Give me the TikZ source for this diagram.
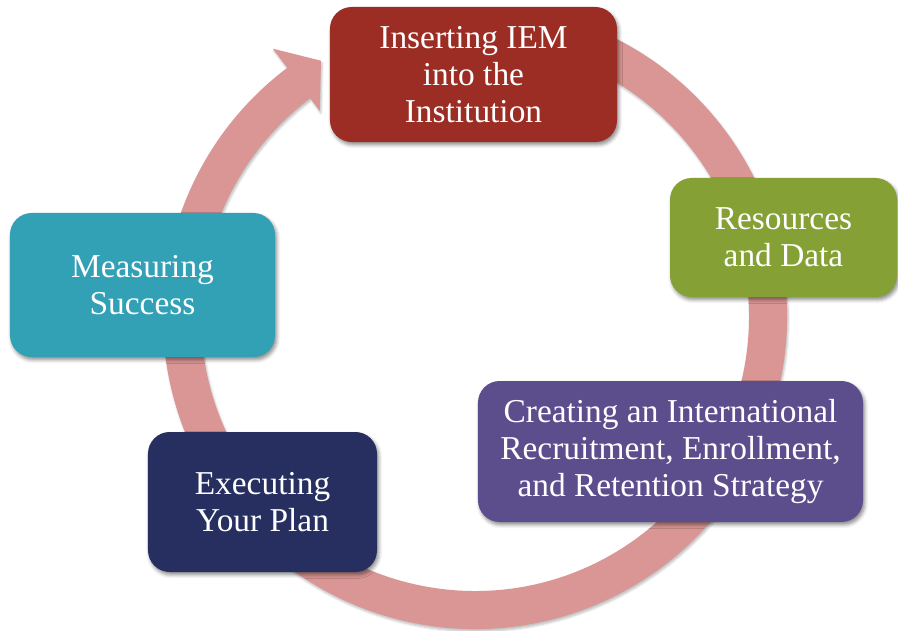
\documentclass[tikz,border=0pt]{standalone}
\usepackage{fontspec}
\setmainfont{Liberation Serif}
\usetikzlibrary{shadows.blur}

\definecolor{cycleRing}{HTML}{DA9694}
\definecolor{cycleRed}{HTML}{9C2D24}
\definecolor{cycleGreen}{HTML}{85A136}
\definecolor{cyclePurple}{HTML}{5C4E8C}
\definecolor{cycleNavy}{HTML}{262F60}
\definecolor{cycleTeal}{HTML}{32A0B5}

\newcommand{\cyclePx}{0.03cm}
\newcommand{\cycleRingIn}{274}
\newcommand{\cycleRingOut}{312}
\tikzset{
  cy base/.style={font=\fontsize{28.5}{31.5}\selectfont, text=white},
  cy shadow/.style={blur shadow={shadow xshift=1.5pt, shadow yshift=-2.5pt,
    shadow blur radius=3pt, shadow opacity=45}},
  cy box/.style={rectangle, rounded corners=0.65cm, align=center,
    inner sep=2pt, cy shadow},
}

\begin{document}
\begin{tikzpicture}[
    x=\cyclePx, y=\cyclePx,
    cy base,
    step box/.style={cy box}
]
\useasboundingbox (0,0) rectangle (898,630);
\coordinate (hub) at (475,313);

% ring arrow, clockwise, head just left of the first box
\fill [cycleRing, blur shadow={shadow xshift=1pt, shadow yshift=-2pt, shadow opacity=25}]
  ([shift={(75:\cycleRingOut)}]hub)
    arc [start angle=75, end angle=-233, radius=\cycleRingOut]
  -- ([shift={(127:336)}]hub)
  -- ([shift={(121:299)}]hub)
  -- ([shift={(127:258)}]hub)
  -- ([shift={(127:\cycleRingIn)}]hub)
    arc [start angle=-233, end angle=75, radius=\cycleRingIn]
  -- cycle;

\node (insert) [step box, fill=cycleRed, minimum width=8.61cm, minimum height=4.05cm]
  at (473.5,555.5) {Inserting IEM\\into the\\Institution};
\node (data) [step box, fill=cycleGreen, minimum width=6.81cm, minimum height=3.57cm]
  at (783.5,392.5) {Resources\\and Data};
\node (strategy) [step box, fill=cyclePurple, minimum width=11.55cm, minimum height=4.23cm]
  at (670.5,178.5) {Creating an International\\Recruitment, Enrollment,\\and Retention Strategy};
\node (plan) [step box, fill=cycleNavy, minimum width=6.87cm, minimum height=4.2cm]
  at (262.5,128) {Executing\\Your Plan};
\node (success) [step box, fill=cycleTeal, minimum width=7.95cm, minimum height=4.32cm]
  at (142.5,345) {Measuring\\Success};
\end{tikzpicture}
\end{document}
